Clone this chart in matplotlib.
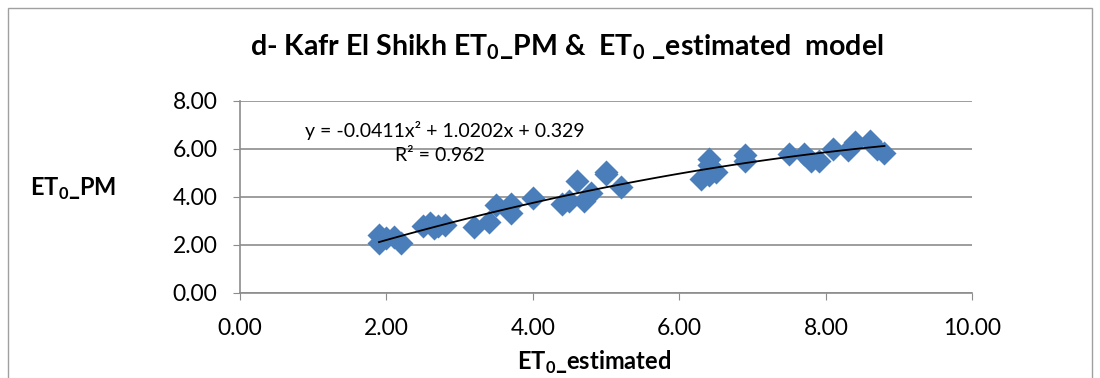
import matplotlib

matplotlib.use("Agg")

import matplotlib.pyplot as plt
import numpy as np
from matplotlib.patches import Rectangle

plt.rcParams["font.family"] = ["Lato", "DejaVu Sans"]
plt.rcParams["mathtext.fontset"] = "custom"
plt.rcParams["mathtext.rm"] = "Lato"
plt.rcParams["mathtext.bf"] = "Lato:bold"

# ET0 estimated (x) vs ET0 Penman-Monteith (y)
et0_est = [1.9, 1.9, 2.0, 2.1, 2.2,
           2.5, 2.6, 2.65, 2.7, 2.8,
           3.2, 3.4, 3.5, 3.7, 3.7,
           4.0, 4.4, 4.5, 4.6, 4.7, 4.8, 5.0, 5.0, 5.2,
           6.3, 6.4, 6.4, 6.5, 6.4,
           6.9, 6.9,
           7.5, 7.7, 7.8, 7.9,
           8.1, 8.3, 8.4, 8.6, 8.7, 8.8]
et0_pm = [2.4, 2.1, 2.3, 2.35, 2.1,
          2.8, 2.9, 2.7, 2.8, 2.85,
          2.75, 2.95, 3.65, 3.35, 3.7,
          3.95, 3.7, 3.85, 4.65, 3.85, 4.15, 5.05, 4.95, 4.4,
          4.75, 5.6, 5.35, 5.05, 4.9,
          5.75, 5.5,
          5.8, 5.8, 5.5, 5.5,
          6.0, 5.95, 6.3, 6.35, 6.0, 5.85]

# polynomial trendline shown on the chart
trend_coef = [-0.0411, 1.0202, 0.329]
trend_text = "y = -0.0411x\u00b2 + 1.0202x + 0.329"
r2_text = "R\u00b2 = 0.962"

BLUE = "#4a7ebb"
GRID = "#8c8c8c"

fig = plt.figure(figsize=(11, 3.78), dpi=100)
fig.patches.append(Rectangle((0.007, -0.05), 0.986, 1.03, transform=fig.transFigure,
                             fill=False, edgecolor="#a0a0a0", lw=1))
ax = fig.add_axes([0.218, 0.225, 0.666, 0.508])

ax.scatter(et0_est, et0_pm, marker="D", s=150, color=BLUE, linewidths=0, zorder=3)

xs = np.linspace(min(et0_est), max(et0_est), 100)
ax.plot(xs, np.polyval(trend_coef, xs), color="black", lw=1.3, zorder=4)

ax.set_xlim(0, 10)
ax.set_ylim(0, 8)
ax.set_xticks(np.arange(0, 10.1, 2))
ax.set_yticks(np.arange(0, 8.1, 2))
ax.xaxis.set_major_formatter(matplotlib.ticker.FormatStrFormatter("%.2f"))
ax.yaxis.set_major_formatter(matplotlib.ticker.FormatStrFormatter("%.2f"))
ax.tick_params(labelsize=16.5, colors="black", length=5, color=GRID)
ax.tick_params(axis="y", pad=11)
ax.tick_params(axis="x", pad=13)
ax.grid(axis="y", color=GRID, lw=1.2)
ax.set_axisbelow(True)
for side in ("top", "right"):
    ax.spines[side].set_visible(False)
for side in ("left", "bottom"):
    ax.spines[side].set_color(GRID)
    ax.spines[side].set_linewidth(1.2)

ax.text(0.89, 6.76, trend_text, fontsize=14, ha="left", va="center")
ax.text(2.12, 5.73, r2_text, fontsize=14, ha="left", va="center")

fig.text(0.515, 0.875, r"d- Kafr El Shikh ET$_\mathbf{0}$_PM &  ET$_\mathbf{0}$ _estimated  model",
         ha="center", va="center", fontsize=20.5, fontweight="bold")
fig.text(0.027, 0.50, r"ET$_\mathbf{0}$_PM", ha="left", va="center",
         fontsize=17, fontweight="bold")
fig.text(0.54, 0.042, r"ET$_\mathbf{0}$_estimated", ha="center", va="center",
         fontsize=17, fontweight="bold")

fig.savefig("out.png", dpi=100)
